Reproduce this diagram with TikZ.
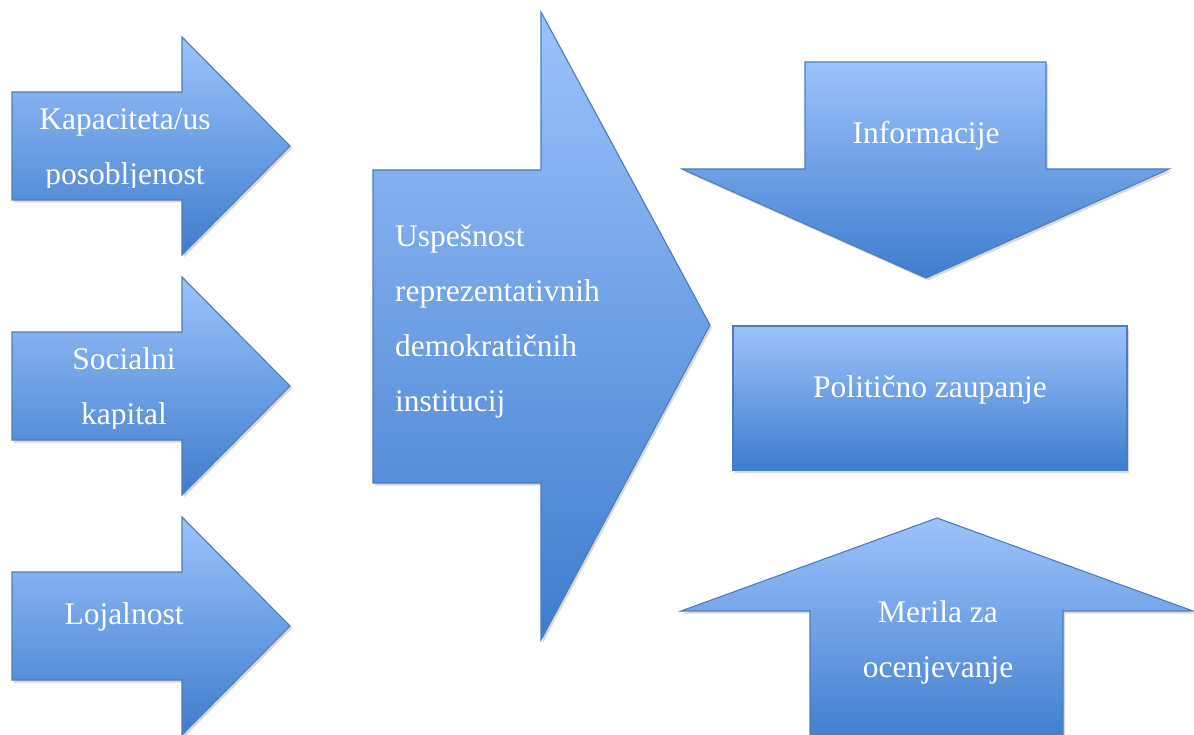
\documentclass[tikz,border=0pt]{standalone}
\usepackage{fontspec}
\setmainfont{Liberation Serif}
\usetikzlibrary{shadows}

\definecolor{arrowtop}{RGB}{157,194,252}
\definecolor{arrowbottom}{RGB}{62,125,205}
\definecolor{arrowline}{RGB}{74,126,188}

\begin{document}
\begin{tikzpicture}[x=1pt, y=-1pt,
      blockarrow/.style={draw=arrowline, line width=1.1pt, top color=arrowtop, bottom color=arrowbottom,
        drop shadow={opacity=0.3, shadow xshift=2pt, shadow yshift=-2.5pt}},
      label/.style={text=white, inner sep=0pt, font=\fontsize{31.5}{55}\selectfont}
    ]
    \useasboundingbox (0,0) rectangle (1194,735);

    % left arrows
    \draw[blockarrow] (12,92) -- (182,92) -- (182,37) -- (290,146) -- (182,255) -- (182,200) -- (12,200) -- cycle;
    \draw[blockarrow] (12,332) -- (182,332) -- (182,277) -- (290,386) -- (182,495) -- (182,440) -- (12,440) -- cycle;
    \draw[blockarrow] (12,572) -- (182,572) -- (182,517) -- (290,626) -- (182,735) -- (182,680) -- (12,680) -- cycle;

    % big arrow
    \draw[blockarrow] (373,170) -- (541,170) -- (541,12) -- (710,325) -- (541,640) -- (541,483) -- (373,483) -- cycle;

    % right side
    \draw[blockarrow] (805,62) -- (1046,62) -- (1046,169) -- (1169,169) -- (926,278) -- (682,169) -- (805,169) -- cycle;
    \draw[blockarrow] (733,326) rectangle (1127,470);
    \draw[blockarrow] (810,745) -- (810,611) -- (681,611) -- (937,518) -- (1193,611) -- (1063,611) -- (1063,745) -- cycle;

    \begin{scope}
      \clip (12,92) rectangle (290,188);
      \node[label, align=center] (kapaciteta) at (125,150) {Kapaciteta/us\\posobljenost};
    \end{scope}
    \begin{scope}
      \clip (12,332) rectangle (290,428);
      \node[label, align=center] (socialni) at (124,389) {Socialni\\kapital};
    \end{scope}
    \node[label] (lojalnost) at (124,617) {Lojalnost};

    \node[label, align=left, anchor=west] (uspesnost) at (395,321) {Uspešnost\\reprezentativnih\\demokratičnih\\institucij};

    \node[label] (informacije) at (926,136) {Informacije};
    \node[label] (zaupanje) at (930,390) {Politično zaupanje};
    \node[label, align=center] (merila) at (938,642) {Merila za\\ocenjevanje};
  \end{tikzpicture}
\end{document}
